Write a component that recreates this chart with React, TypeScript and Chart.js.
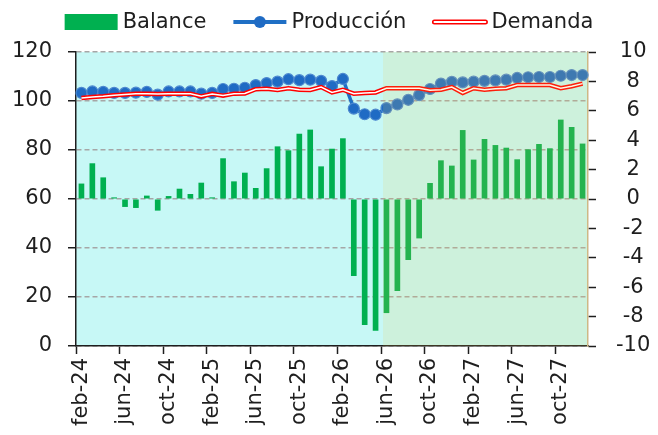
import React, { useEffect, useRef } from 'react';
import { Chart, registerables } from 'chart.js';
Chart.register(...registerables);

const categories = [
  'feb-24', 'mar-24', 'abr-24', 'may-24', 'jun-24', 'jul-24', 'ago-24', 'sep-24', 'oct-24', 'nov-24', 'dic-24',
  'ene-25', 'feb-25', 'mar-25', 'abr-25', 'may-25', 'jun-25', 'jul-25', 'ago-25', 'sep-25', 'oct-25', 'nov-25', 'dic-25',
  'ene-26', 'feb-26', 'mar-26', 'abr-26', 'may-26', 'jun-26', 'jul-26', 'ago-26', 'sep-26', 'oct-26', 'nov-26', 'dic-26',
  'ene-27', 'feb-27', 'mar-27', 'abr-27', 'may-27', 'jun-27', 'jul-27', 'ago-27', 'sep-27', 'oct-27', 'nov-27', 'dic-27',
];

const balance = [
  1.05, 2.43, 1.47, 0.11, -0.54, -0.61, 0.23, -0.79, 0.2, 0.7,
  0.34, 1.11, 0.11, 2.77, 1.2, 1.79, 0.75, 2.09, 3.58, 3.31,
  4.44, 4.72, 2.22, 3.42, 4.13, -5.24, -8.57, -8.96, -7.76, -6.26,
  -4.15, -2.68, 1.09, 2.63, 2.27, 4.69, 2.68, 4.08, 3.67, 3.49,
  2.7, 3.38, 3.74, 3.45, 5.4, 4.9, 3.77,
];

const produccion = [
  103.3, 103.9, 103.7, 103.3, 103.3, 103.4, 103.7, 102.6, 103.9, 103.9,
  103.9, 103.0, 103.3, 104.9, 105.0, 105.4, 106.5, 107.3, 107.9, 108.9,
  108.5, 108.7, 108.2, 106.1, 109.0, 96.9, 94.6, 94.4, 97.1, 98.6,
  100.5, 102.4, 104.9, 107.1, 107.8, 107.6, 107.9, 108.2, 108.4, 108.7,
  109.4, 109.7, 109.8, 109.8, 110.3, 110.6, 110.6,
];

const demanda = [
  101.2, 101.6, 101.9, 102.3, 102.7, 103.0, 103.0, 102.9, 103.0, 103.0,
  103.0, 101.9, 102.9, 102.2, 103.0, 103.1, 104.8, 105.0, 104.5, 105.2,
  104.6, 104.5, 105.7, 103.5, 104.6, 103.0, 103.3, 103.5, 105.2, 105.2,
  105.2, 105.2, 104.4, 104.6, 105.7, 103.3, 105.2, 104.6, 105.0, 105.2,
  106.5, 106.5, 106.5, 106.5, 105.2, 106.0, 107.1,
];

const seriesNames = ['Balance', 'Producción', 'Demanda'];
const shadeSplitIndex = 28; // jun-26: start of green shaded period

const FONT = '"DejaVu Sans", sans-serif';
const FONT_SIZE = 21;
const TEXT = '#1e1e1e';
const BAR = '#00b050';
const PROD_LINE = '#1f6fc5';
const PROD_POINT = '#1f6bc4';
const PROD_POINT_BORDER = '#4d88cf';
const RED = '#ff0000';
const GRID = '#a6a6a6';

const bgPlugin = {
  id: 'bgShade',
  beforeDraw(chart: any) {
    const { ctx, chartArea: a } = chart;
    ctx.save();
    ctx.fillStyle = '#c7f8f6';
    ctx.fillRect(a.left, a.top, a.right - a.left, a.bottom - a.top);
    ctx.restore();
  },
  afterDatasetsDraw(chart: any) {
    const { ctx, chartArea: a, scales } = chart;
    const x = scales.x;
    const split = (x.getPixelForValue(shadeSplitIndex - 1) + x.getPixelForValue(shadeSplitIndex)) / 2 + 2;
    ctx.save();
    ctx.fillStyle = 'rgba(239,201,73,0.15)';
    ctx.fillRect(split, a.top, a.right - split, a.bottom - a.top);
    ctx.restore();
  },
};

const legendPlugin = {
  id: 'customLegend',
  afterDraw(chart: any) {
    const ctx = chart.ctx;
    ctx.save();
    ctx.font = `${FONT_SIZE}px ${FONT}`;
    const symW = 53;
    const gap = 5;
    const itemGap = 27;
    const widths = seriesNames.map((n) => symW + gap + ctx.measureText(n).width);
    const total = widths.reduce((s, w) => s + w, 0) + itemGap * (seriesNames.length - 1);
    let x = chart.width / 2 - total / 2;
    const cy = 22;
    seriesNames.forEach((name, i) => {
      if (i === 0) {
        ctx.fillStyle = BAR;
        ctx.fillRect(x, cy - 8, symW, 16);
      } else if (i === 1) {
        ctx.strokeStyle = PROD_LINE;
        ctx.lineWidth = 4;
        ctx.beginPath();
        ctx.moveTo(x, cy);
        ctx.lineTo(x + symW, cy);
        ctx.stroke();
        ctx.beginPath();
        ctx.arc(x + symW / 2, cy, 6, 0, Math.PI * 2);
        ctx.fillStyle = PROD_POINT;
        ctx.fill();
      } else {
        ctx.lineCap = 'round';
        ctx.strokeStyle = RED;
        ctx.lineWidth = 5;
        ctx.beginPath();
        ctx.moveTo(x + 1, cy);
        ctx.lineTo(x + symW - 1, cy);
        ctx.stroke();
        ctx.strokeStyle = '#ffffff';
        ctx.lineWidth = 1.8;
        ctx.beginPath();
        ctx.moveTo(x + 1, cy);
        ctx.lineTo(x + symW - 1, cy);
        ctx.stroke();
      }
      ctx.fillStyle = TEXT;
      ctx.textBaseline = 'middle';
      ctx.textAlign = 'left';
      ctx.fillText(name, x + symW + gap, cy + 1);
      x += widths[i] + itemGap;
    });
    ctx.restore();
  },
};

export default function App() {
  const ref = useRef<HTMLCanvasElement | null>(null);

  useEffect(() => {
    document.body.style.margin = '0';
    const canvas = ref.current!;
    const chart = new Chart(canvas, {
      type: 'bar',
      data: {
        labels: categories,
        datasets: [
          {
            type: 'line',
            label: seriesNames[2] + ' (inner)',
            data: demanda,
            yAxisID: 'y',
            borderColor: '#ffffff',
            borderWidth: 1.5,
            pointRadius: 0,
            tension: 0,
            order: 0,
          } as any,
          {
            type: 'line',
            label: seriesNames[2],
            data: demanda,
            yAxisID: 'y',
            borderColor: RED,
            borderWidth: 4.5,
            pointRadius: 0,
            tension: 0,
            order: 1,
          } as any,
          {
            type: 'line',
            label: seriesNames[1],
            data: produccion,
            yAxisID: 'y',
            borderColor: PROD_LINE,
            borderWidth: 3.5,
            pointRadius: 5.5,
            pointBackgroundColor: PROD_POINT,
            pointBorderColor: PROD_POINT_BORDER,
            pointBorderWidth: 1.2,
            tension: 0,
            order: 2,
          } as any,
          {
            type: 'bar',
            label: seriesNames[0],
            data: balance,
            yAxisID: 'y1',
            backgroundColor: BAR,
            categoryPercentage: 1,
            barPercentage: 0.52,
            order: 3,
          } as any,
        ],
      },
      options: {
        responsive: false,
        animation: false,
        devicePixelRatio: 1,
        events: [],
        layout: { padding: { top: 52, left: 0, right: 0, bottom: 0 } },
        plugins: {
          legend: { display: false },
          tooltip: { enabled: false },
        },
        scales: {
          x: {
            type: 'category',
            offset: true,
            afterFit: (s: any) => { s.height = 89; },
            grid: {
              offset: true,
              drawOnChartArea: false,
              drawTicks: true,
              tickLength: 8,
              tickWidth: 1.5,
              tickColor: (c: any) => (c.index % 4 === 0 && c.index < categories.length ? TEXT : 'rgba(0,0,0,0)'),
            },
            border: { display: true, color: TEXT, width: 1.5 },
            ticks: {
              autoSkip: false,
              minRotation: 90,
              maxRotation: 90,
              padding: 4,
              color: TEXT,
              font: { family: FONT, size: FONT_SIZE },
              callback: (v: any, i: number) => (i % 4 === 0 ? categories[i] : ''),
            },
          },
          y: {
            type: 'linear',
            position: 'left',
            min: 0,
            max: 120,
            afterFit: (s: any) => { s.width = 76; },
            ticks: {
              stepSize: 20,
              padding: 16,
              color: TEXT,
              font: { family: FONT, size: FONT_SIZE },
            },
            grid: {
              color: GRID,
              lineWidth: 1.5,
              drawTicks: true,
              tickLength: 8,
              tickColor: TEXT,
              tickWidth: 1.5,
              tickBorderDash: [],
            },
            border: { display: true, color: TEXT, width: 1.5, dash: [5, 3] },
          },
          y1: {
            type: 'linear',
            position: 'right',
            min: -10,
            max: 10,
            afterFit: (s: any) => { s.width = 70; },
            ticks: {
              stepSize: 2,
              padding: 20,
              crossAlign: 'center',
              color: TEXT,
              font: { family: FONT, size: FONT_SIZE },
            },
            grid: {
              drawOnChartArea: false,
              drawTicks: true,
              tickLength: 8,
              tickColor: TEXT,
              tickWidth: 1.5,
            },
            border: { display: true, color: '#c9b68f', width: 1.5 },
          },
        },
      },
      plugins: [bgPlugin, legendPlugin],
    } as any);
    return () => chart.destroy();
  }, []);

  return (
    <div style={{ width: 658, height: 435 }}>
      <canvas ref={ref} width={658} height={435} style={{ display: 'block' }} />
    </div>
  );
}
